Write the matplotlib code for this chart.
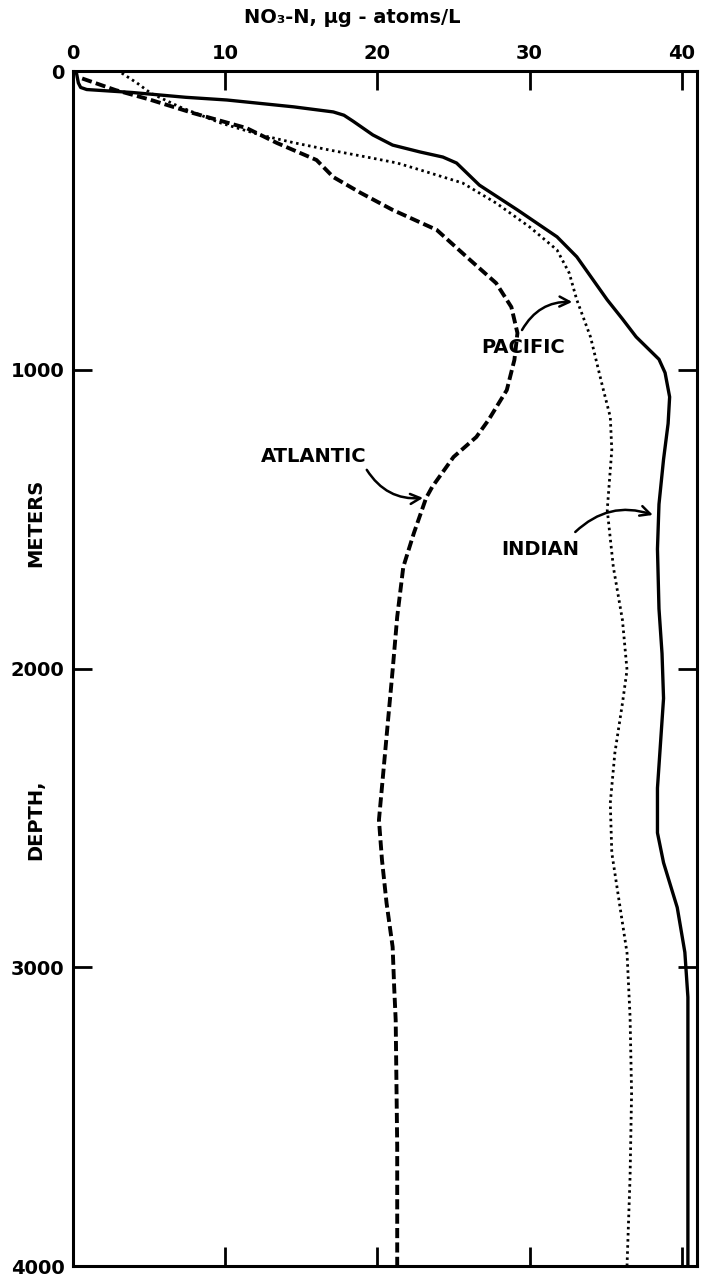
import matplotlib
matplotlib.use("Agg")
import matplotlib.pyplot as plt

# nitrate (NO3-N, ug-atoms/L) vs depth (m)
indian_no3 = [0.2, 0.35, 0.5, 0.9, 3.9, 7.4, 10.1, 14.5, 17.1, 17.8, 18.4, 19.7,
              21.0, 22.8, 24.3, 25.2, 26.7, 29.2, 31.8, 33.1, 35.1, 36.1, 37.0,
              37.8, 38.5, 38.9, 39.2, 39.1, 38.8, 38.5, 38.4, 38.5, 38.7, 38.8,
              38.6, 38.4, 38.4, 38.8, 39.7, 40.2, 40.4, 40.4, 40.4]
indian_depth = [0, 40, 55, 62, 72, 88, 97, 120, 137, 148, 168, 214,
                248, 271, 288, 308, 382, 465, 555, 622, 766, 830, 890,
                930, 965, 1010, 1091, 1180, 1300, 1450, 1600, 1800, 1950, 2100,
                2250, 2400, 2550, 2650, 2800, 2950, 3100, 3500, 4000]

pacific_no3 = [3.2, 4.2, 5.1, 7.0, 9.7, 12.3, 14.5, 16.8, 19.5, 21.3, 22.8, 25.6,
               27.8, 30.0, 31.8, 32.6, 33.1, 34.0, 34.8, 35.3, 35.4, 35.1, 35.5,
               36.1, 36.4, 36.1, 35.6, 35.3, 35.4, 35.9, 36.4, 36.6, 36.7, 36.6,
               36.4]
pacific_depth = [7, 40, 74, 120, 174, 214, 240, 264, 290, 308, 331, 375,
                 442, 522, 599, 676, 766, 890, 1058, 1158, 1268, 1469, 1660,
                 1838, 2005, 2116, 2283, 2450, 2617, 2785, 2952, 3166, 3421, 3702,
                 4000]

atlantic_no3 = [0.6, 2.8, 5.0, 7.9, 11.4, 13.4, 16.0, 17.1, 18.9, 21.0, 23.9,
                26.1, 27.8, 28.8, 29.2, 29.0, 28.5, 27.3, 26.5, 25.0, 23.6, 23.2,
                22.4, 21.7, 21.3, 21.0, 20.7, 20.4, 20.1, 20.3, 20.6, 21.0, 21.1,
                21.2, 21.3, 21.3]
atlantic_depth = [25, 64, 95, 141, 191, 241, 298, 355, 408, 465, 532,
                  633, 710, 790, 877, 967, 1068, 1168, 1225, 1292, 1392, 1429,
                  1546, 1660, 1827, 2005, 2172, 2340, 2507, 2641, 2785, 2932, 3066,
                  3176, 3600, 4000]

x_ticks = [0, 10, 20, 30, 40]
y_ticks = [0, 1000, 2000, 3000, 4000]

plt.rcParams['font.family'] = ['DejaVu Sans']
plt.rcParams['font.weight'] = 'bold'

fig = plt.figure(figsize=(7.07, 12.84), dpi=100)
ax = fig.add_axes([0.1033, 0.0140, 0.8826, 0.9307])

ax.plot(indian_no3, indian_depth, color='black', lw=2.4,
        solid_joinstyle='round')
ax.plot(pacific_no3, pacific_depth, color='black', lw=2.0,
        linestyle=(0, (0.9, 1.3)))
ax.plot(atlantic_no3, atlantic_depth, color='black', lw=2.8,
        linestyle=(0, (2.6, 1.1)))

ax.set_xlim(0, 41)
ax.set_ylim(4000, 0)
ax.set_xticks(x_ticks)
ax.set_yticks(y_ticks)
ax.xaxis.tick_top()
ax.tick_params(axis='both', direction='in', length=14, width=2,
               top=True, bottom=True, left=True, right=True,
               labeltop=True, labelbottom=False, labelsize=14, pad=6)
for lab in ax.get_xticklabels() + ax.get_yticklabels():
    lab.set_fontweight('bold')
for sp in ax.spines.values():
    sp.set_linewidth(2.2)

fig.text(0.498, 0.986, 'NO₃-N, μg - atoms/L', ha='center', va='center',
         fontsize=14, fontweight='bold')
fig.text(0.050, 1 - 523 / 1284, 'METERS', rotation=90, ha='center',
         va='center', fontsize=14, fontweight='bold')
fig.text(0.050, 1 - 820 / 1284, 'DEPTH,', rotation=90, ha='center',
         va='center', fontsize=14, fontweight='bold')

arrow = dict(arrowstyle='->', color='black', lw=1.8, mutation_scale=18,
             shrinkA=0, shrinkB=0)
ax.text(29.6, 927, 'PACIFIC', ha='center', va='center', fontsize=14,
        fontweight='bold')
ax.annotate('', xy=(32.8, 773), xytext=(29.5, 867),
            arrowprops=dict(arrow, connectionstyle='arc3,rad=-0.3'))
ax.text(15.8, 1292, 'ATLANTIC', ha='center', va='center', fontsize=14,
        fontweight='bold')
ax.annotate('', xy=(23.0, 1429), xytext=(19.3, 1335),
            arrowprops=dict(arrow, connectionstyle='arc3,rad=0.3'))
ax.text(30.7, 1600, 'INDIAN', ha='center', va='center', fontsize=14,
        fontweight='bold')
ax.annotate('', xy=(38.1, 1486), xytext=(33.0, 1543),
            arrowprops=dict(arrow, connectionstyle='arc3,rad=-0.3'))

fig.savefig('out.png', dpi=100)
